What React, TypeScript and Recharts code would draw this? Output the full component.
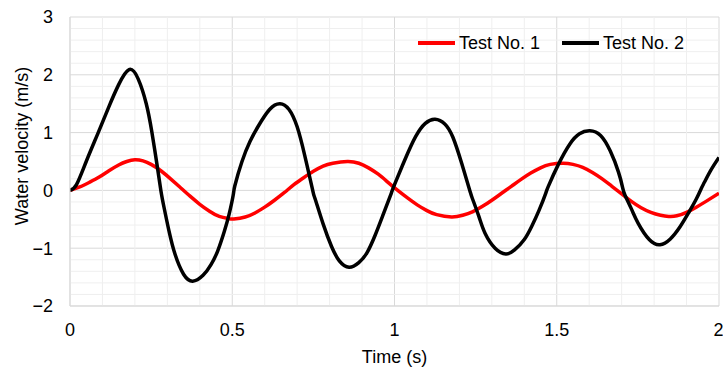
import { CartesianGrid, Legend, Line, LineChart, ReferenceLine, XAxis, YAxis } from "recharts";

// time (s) and water velocity (m/s)
const test1Time = [
  0, 0.03, 0.06, 0.09, 0.12, 0.15, 0.175, 0.2, 0.225, 0.25, 0.28, 0.31, 0.34, 0.37, 0.4, 0.43, 0.46, 0.49, 0.505,
  0.54, 0.57, 0.6, 0.63, 0.66, 0.69, 0.72, 0.75, 0.78, 0.81, 0.855, 0.89, 0.92, 0.95, 0.98, 1.01, 1.04, 1.07, 1.1,
  1.13, 1.176, 1.21, 1.24, 1.27, 1.3, 1.33, 1.36, 1.39, 1.42, 1.45, 1.48, 1.52, 1.55, 1.58, 1.61, 1.64, 1.67, 1.7,
  1.73, 1.76, 1.79, 1.82, 1.845, 1.87, 1.9, 1.93, 1.96, 2.0,
];
const test1Velocity = [
  0, 0.06, 0.14, 0.23, 0.34, 0.44, 0.5, 0.53, 0.51, 0.45, 0.34, 0.2, 0.05, -0.1, -0.24, -0.36, -0.45, -0.49, -0.495,
  -0.46, -0.39, -0.29, -0.17, -0.04, 0.1, 0.22, 0.33, 0.42, 0.47, 0.5, 0.47, 0.39, 0.28, 0.14, 0.0, -0.13, -0.25,
  -0.35, -0.42, -0.46, -0.43, -0.37, -0.28, -0.17, -0.05, 0.07, 0.19, 0.3, 0.39, 0.45, 0.47, 0.45, 0.4, 0.31, 0.2,
  0.07, -0.06, -0.19, -0.3, -0.38, -0.43, -0.45, -0.44, -0.38, -0.29, -0.19, -0.05,
];

const test2Time = [
  0, 0.02, 0.05, 0.087, 0.12, 0.15, 0.182, 0.21, 0.235, 0.252, 0.268, 0.28, 0.29, 0.305, 0.324, 0.35, 0.378, 0.41,
  0.435, 0.455, 0.475, 0.49, 0.503, 0.508, 0.53, 0.555, 0.58, 0.615, 0.647, 0.675, 0.7, 0.724, 0.748, 0.755, 0.78,
  0.806, 0.83, 0.86, 0.89, 0.915, 0.94, 0.965, 0.99, 1.0, 1.032, 1.065, 1.095, 1.125, 1.155, 1.18, 1.207, 1.232,
  1.24, 1.26, 1.279, 1.31, 1.343, 1.37, 1.4, 1.423, 1.445, 1.466, 1.474, 1.505, 1.54, 1.57, 1.602, 1.635, 1.665,
  1.69, 1.703, 1.71, 1.73, 1.751, 1.785, 1.818, 1.85, 1.88, 1.906, 1.93, 1.946, 1.955, 1.975, 2.0,
];
const test2Velocity = [
  0, 0.1, 0.5, 1.0, 1.45, 1.83, 2.09, 1.93, 1.5, 1.02, 0.45, 0.0, -0.3, -0.7, -1.11, -1.45, -1.57, -1.47, -1.28,
  -1.05, -0.72, -0.42, -0.08, 0.08, 0.5, 0.85, 1.11, 1.4, 1.5, 1.4, 1.1, 0.59, 0.0, -0.14, -0.58, -0.97, -1.22,
  -1.33, -1.25, -1.08, -0.78, -0.42, -0.05, 0.1, 0.53, 0.93, 1.16, 1.23, 1.15, 0.92, 0.47, 0.0, -0.14, -0.45,
  -0.74, -1.0, -1.1, -1.03, -0.85, -0.62, -0.35, -0.05, 0.07, 0.45, 0.8, 0.98, 1.03, 0.95, 0.68, 0.32, 0.05, -0.08,
  -0.32, -0.57, -0.85, -0.94, -0.84, -0.63, -0.39, -0.15, 0.04, 0.14, 0.35, 0.57,
];

const xTicks = [0, 0.5, 1, 1.5, 2];
const yTicks = [-2, -1, 0, 1, 2, 3];
const xMinor = [0.1, 0.2, 0.3, 0.4, 0.6, 0.7, 0.8, 0.9, 1.1, 1.2, 1.3, 1.4, 1.6, 1.7, 1.8, 1.9];
const yMinor = [-1.8, -1.6, -1.4, -1.2, -0.8, -0.6, -0.4, -0.2, 0.2, 0.4, 0.6, 0.8, 1.2, 1.4, 1.6, 1.8, 2.2, 2.4, 2.6, 2.8];

const series = [
  { name: "Test No. 1", color: "#ff0000" },
  { name: "Test No. 2", color: "#000000" },
];

const test1 = test1Time.map((t, i) => ({ t, v: test1Velocity[i] }));
const test2 = test2Time.map((t, i) => ({ t, v: test2Velocity[i] }));

const fmt = (v: number) => (v < 0 ? `\u2212${Math.abs(v)}` : `${v}`);

function LegendBox() {
  return (
    <div style={{ display: "flex", alignItems: "center", gap: 22, fontSize: 18, color: "#000", lineHeight: "20px" }}>
      {series.map((s) => (
        <div key={s.name} style={{ display: "flex", alignItems: "center", gap: 4 }}>
          <svg width={37} height={6}>
            <line x1={0} x2={37} y1={3} y2={3} stroke={s.color} strokeWidth={4} />
          </svg>
          <span>{s.name}</span>
        </div>
      ))}
    </div>
  );
}

function YLabel(props: any) {
  const vb = props.viewBox || { x: 0 };
  const x = vb.x + 22;
  const y = 146;
  return (
    <text x={x} y={y} transform={`rotate(-90 ${x} ${y})`} textAnchor="middle" dominantBaseline="central" fontSize={18} fill="#000">
      Water velocity (m/s)
    </text>
  );
}

export default function App() {
  return (
    <div style={{ position: "absolute", left: 0, top: 0, fontFamily: "'Liberation Sans', Arial, sans-serif" }}>
      <LineChart width={723} height={368} margin={{ top: 17, right: 4, bottom: 0, left: 0 }}>
        {xMinor.map((v) => (
          <ReferenceLine key={`x${v}`} x={v} stroke="#efefef" strokeWidth={1} />
        ))}
        {yMinor.map((v) => (
          <ReferenceLine key={`y${v}`} y={v} stroke="#efefef" strokeWidth={1} />
        ))}
        <CartesianGrid stroke="#d9d9d9" fill="none" />
        <XAxis
          type="number"
          dataKey="t"
          domain={[0, 2]}
          ticks={xTicks}
          allowDataOverflow
          height={62}
          axisLine={{ stroke: "#d9d9d9" }}
          tickLine={false}
          tickSize={0}
          tickMargin={17}
          tick={{ fontSize: 18, fill: "#000" }}
          label={{ value: "Time (s)", position: "insideBottom", offset: 5, fontSize: 18, fill: "#000" }}
        />
        <YAxis
          type="number"
          domain={[-2, 3]}
          ticks={yTicks}
          width={70}
          axisLine={{ stroke: "#d9d9d9" }}
          tickLine={false}
          tickSize={0}
          tickMargin={17}
          tickFormatter={fmt}
          tick={{ fontSize: 18, fill: "#000" }}
          label={<YLabel />}
        />
        <Legend
          layout="horizontal"
          verticalAlign="middle"
          align="center"
          content={<LegendBox />}
          wrapperStyle={{ top: 33, left: 418, width: "auto" }}
        />
        <Line
          data={test1}
          dataKey="v"
          name={series[0].name}
          type="natural"
          stroke={series[0].color}
          strokeWidth={3.5}
          dot={false}
          isAnimationActive={false}
        />
        <Line
          data={test2}
          dataKey="v"
          name={series[1].name}
          type="natural"
          stroke={series[1].color}
          strokeWidth={3.5}
          dot={false}
          isAnimationActive={false}
        />
      </LineChart>
    </div>
  );
}
